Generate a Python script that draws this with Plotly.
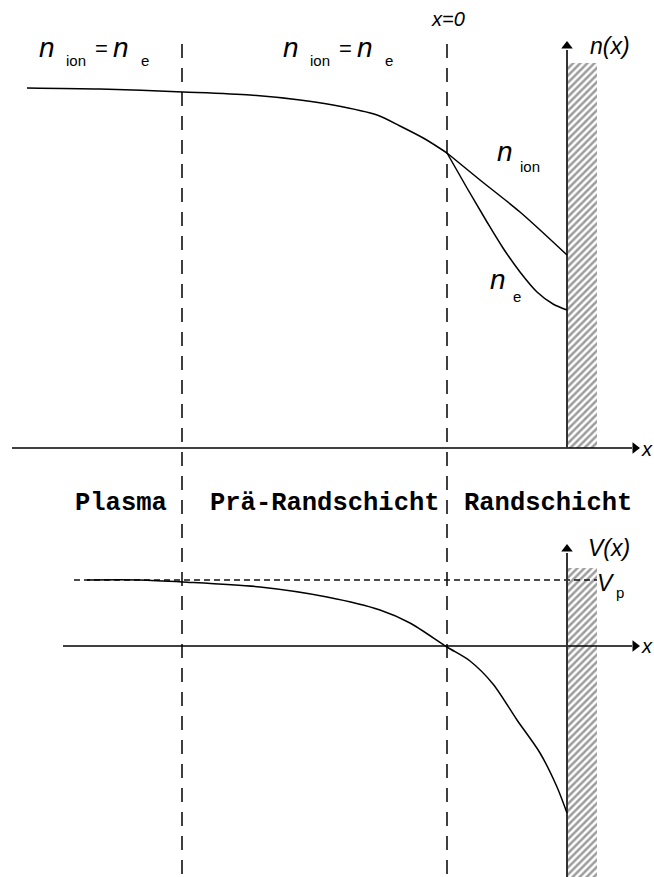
import plotly.graph_objects as go

# Drawing coordinates: x grows to the right, y grows downward (page-like units)
W, H = 654, 877

# Region boundaries (dashed separators)
boundary_x = [182, 447]

# Density profile n(x), common part (plasma + pre-sheath)
n_common_x = [27, 100, 183, 250, 300, 333, 377, 400, 425, 447]
n_common_y = [88, 89, 92, 95, 100, 105, 115, 126, 139, 153]
# Sheath: ion density
n_ion_x = [447, 480, 520, 567]
n_ion_y = [153, 180, 212, 255]
# Sheath: electron density
n_e_x = [447, 467, 487, 503, 520, 537, 553, 567]
n_e_y = [153, 188, 222, 248, 272, 292, 304, 310]

# Potential profile V(x)
v_x = [87, 140, 183, 260, 327, 380, 410, 447, 470, 493, 517, 540, 557, 567]
v_y = [580, 580, 582, 587, 597, 610, 623, 647, 661, 684, 720, 753, 787, 813]
vp_level = 580

# Axes
n_axis_y = 448
v_axis_y = 646
wall_x = [567, 597]

region_labels = ["Plasma", "Prä-Randschicht", "Randschicht"]
region_label_x = [121, 325, 548]
region_label_y = 503

fig = go.Figure()

def line(xs, ys, width=1.5, dash=None, color="black", shape="linear"):
    fig.add_trace(go.Scatter(x=xs, y=ys, mode="lines",
                             line=dict(color=color, width=width, dash=dash,
                                       shape=shape, smoothing=0.8),
                             hoverinfo="skip", showlegend=False))

# Hatched wall, upper and lower panels
for y0, y1 in [(63, n_axis_y), (568, H)]:
    fig.add_trace(go.Scatter(
        x=[wall_x[0], wall_x[1], wall_x[1], wall_x[0], wall_x[0]],
        y=[y0, y0, y1, y1, y0], mode="lines", fill="toself",
        line=dict(width=0), fillcolor="white",
        fillpattern=dict(shape="/", size=5, solidity=0.5,
                         fgcolor="#3a3a3a", bgcolor="white"),
        hoverinfo="skip", showlegend=False))

# Dashed region separators
for bx in boundary_x:
    line([bx, bx], [44, H], width=1.6, dash="14px,10px", color="#111111")

# Plasma potential level
line([74, wall_x[1]], [vp_level, vp_level], width=1.3, dash="6px,4px", color="#111111")

# Horizontal axes with arrow tips
line([12, 632], [n_axis_y, n_axis_y], width=1.5)
line([63, 632], [v_axis_y, v_axis_y], width=1.5)
# Vertical axes (wall surface) with arrow tips
line([wall_x[0], wall_x[0]], [n_axis_y, 50], width=2, color="#333333")
line([wall_x[0], wall_x[0]], [H, 553], width=2, color="#333333")

fig.add_trace(go.Scatter(x=[635, 635], y=[n_axis_y, v_axis_y], mode="markers",
                         marker=dict(symbol="triangle-right", size=10, color="black"),
                         hoverinfo="skip", showlegend=False))
fig.add_trace(go.Scatter(x=[wall_x[0], wall_x[0]], y=[46, 549], mode="markers",
                         marker=dict(symbol="triangle-up", size=10, color="black"),
                         hoverinfo="skip", showlegend=False))

# Profiles
line(n_common_x, n_common_y, width=1.5, shape="spline")
line(n_ion_x, n_ion_y, width=1.5, shape="spline")
line(n_e_x, n_e_y, width=1.5, shape="spline")
line(v_x, v_y, width=1.5, shape="spline")

ann = []
sans = "Liberation Sans"

def text(x, y, s, size, italic=False, family=sans, bold=False, xanchor="center"):
    if italic:
        s = "<i>" + s + "</i>"
    if bold:
        s = "<b>" + s + "</b>"
    ann.append(dict(x=x, y=y, xref="x", yref="y", text=s, showarrow=False,
                    xanchor=xanchor, yanchor="middle",
                    font=dict(family=family, size=size, color="black")))

# n_ion = n_e labels in the quasi-neutral regions
for x0 in [47, 291]:
    text(x0, 47, "n", 28, italic=True)
    text(x0 + 29, 60, "ion", 15)
    text(x0 + 54, 48, "=", 22)
    text(x0 + 74, 47, "n", 28, italic=True)
    text(x0 + 98, 60, "e", 15)

# Sheath curve labels
text(505, 151, "n", 28, italic=True)
text(530, 166, "ion", 15)
text(498, 279, "n", 28, italic=True)
text(517, 296, "e", 15)

text(448, 19, "x=0", 20, italic=True)
text(610, 46, "n(x)", 23, italic=True)
text(609, 548, "V(x)", 23, italic=True)
text(606, 583, "V", 23, italic=True)
text(620, 592, "p", 15)
text(639, 449, "x", 20, italic=True, xanchor="left")
text(639, 646, "x", 20, italic=True, xanchor="left")

for lbl, lx in zip(region_labels, region_label_x):
    text(lx, region_label_y, lbl, 25.5, family="Liberation Mono", bold=True)

fig.update_layout(
    width=W, height=H, autosize=False,
    margin=dict(l=0, r=0, t=0, b=0),
    paper_bgcolor="white", plot_bgcolor="white",
    xaxis=dict(range=[0, W], visible=False, fixedrange=True),
    yaxis=dict(range=[H, 0], visible=False, fixedrange=True),
    annotations=ann,
)

fig.write_html("out.html")
